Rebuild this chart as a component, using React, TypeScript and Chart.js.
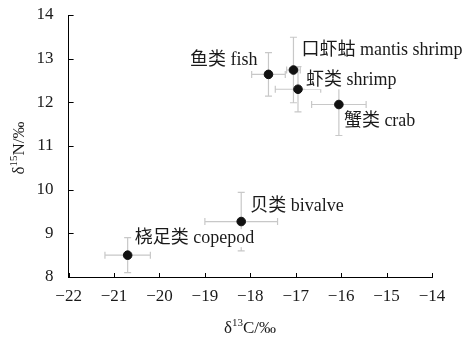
import React, { useEffect, useRef } from "react";
import { Chart, registerables } from "chart.js";

Chart.register(...registerables);

const groups = ["桡足类 copepod", "贝类 bivalve", "鱼类 fish", "口虾蛄 mantis shrimp", "虾类 shrimp", "蟹类 crab"];
const d13C = [-20.7, -18.2, -17.6, -17.05, -16.95, -16.05];
const d15N = [8.5, 9.27, 12.64, 12.74, 12.3, 11.95];
const d13CSd = [0.5, 0.8, 0.37, 0.15, 0.5, 0.6];
const d15NSd = [0.4, 0.67, 0.5, 0.75, 0.52, 0.71];

const xTicks = [-22, -21, -20, -19, -18, -17, -16, -15, -14];
const yTicks = [8, 9, 10, 11, 12, 13, 14];

// label offsets from each point (pixels), and alignment
const labelDx = [7, 9, -11, 8, 8, 5];
const labelDy = [-17, -15, -14, -20, -9, 17];
const labelAlign: CanvasTextAlign[] = ["left", "left", "right", "left", "left", "left"];

const SERIF = '"Liberation Serif", "Times New Roman", "Noto Sans CJK SC", serif';

const fmt = (v: number) => (v < 0 ? "\u2212" + Math.abs(v) : String(v));

const decorPlugin = {
  id: "decor",
  beforeDatasetsDraw(chart: any) {
    const { ctx, scales } = chart;
    const xs = scales.x;
    const ys = scales.y;
    const area = chart.chartArea;
    ctx.save();
    // inward ticks
    ctx.strokeStyle = "#000";
    ctx.lineWidth = 1;
    ctx.beginPath();
    xTicks.forEach((t) => {
      const px = Math.round(xs.getPixelForValue(t)) + 0.5;
      ctx.moveTo(px, area.bottom);
      ctx.lineTo(px, area.bottom - 4);
    });
    yTicks.forEach((t) => {
      const py = Math.round(ys.getPixelForValue(t)) + 0.5;
      ctx.moveTo(area.left, py);
      ctx.lineTo(area.left + 5, py);
    });
    ctx.stroke();
    // error bars
    ctx.strokeStyle = "#c8c8c8";
    ctx.lineWidth = 1.2;
    const cap = 3.5;
    ctx.beginPath();
    d13C.forEach((x, i) => {
      const y = d15N[i];
      const cx = xs.getPixelForValue(x);
      const cy = ys.getPixelForValue(y);
      const x0 = xs.getPixelForValue(x - d13CSd[i]);
      const x1 = xs.getPixelForValue(x + d13CSd[i]);
      const y0 = ys.getPixelForValue(y - d15NSd[i]);
      const y1 = ys.getPixelForValue(y + d15NSd[i]);
      ctx.moveTo(x0, cy); ctx.lineTo(x1, cy);
      ctx.moveTo(x0, cy - cap); ctx.lineTo(x0, cy + cap);
      ctx.moveTo(x1, cy - cap); ctx.lineTo(x1, cy + cap);
      ctx.moveTo(cx, y0); ctx.lineTo(cx, y1);
      ctx.moveTo(cx - cap, y0); ctx.lineTo(cx + cap, y0);
      ctx.moveTo(cx - cap, y1); ctx.lineTo(cx + cap, y1);
    });
    ctx.stroke();
    ctx.restore();
  },
  afterDatasetsDraw(chart: any) {
    const { ctx, scales } = chart;
    const xs = scales.x;
    const ys = scales.y;
    ctx.save();
    ctx.font = "18px " + SERIF;
    ctx.textBaseline = "middle";
    groups.forEach((g, i) => {
      const px = xs.getPixelForValue(d13C[i]) + labelDx[i];
      const py = ys.getPixelForValue(d15N[i]) + labelDy[i];
      const w = ctx.measureText(g).width;
      const left = labelAlign[i] === "left" ? px : px - w;
      ctx.fillStyle = "#fff";
      ctx.fillRect(left - 1, py - 9, w + 2, 18);
      ctx.fillStyle = "#1a1a1a";
      ctx.textAlign = labelAlign[i];
      ctx.fillText(g, px, py);
    });
    ctx.restore();
  },
  afterDraw(chart: any) {
    const { ctx } = chart;
    const drawTitle = (parts: { t: string; sup?: boolean }[], cx: number, cy: number, rot: number) => {
      ctx.save();
      ctx.translate(cx, cy);
      ctx.rotate(rot);
      ctx.fillStyle = "#1a1a1a";
      ctx.textBaseline = "alphabetic";
      ctx.textAlign = "left";
      const widths = parts.map((p) => {
        ctx.font = (p.sup ? "11px " : "17px ") + SERIF;
        return ctx.measureText(p.t).width;
      });
      const total = widths.reduce((a, b) => a + b, 0);
      let x = -total / 2;
      parts.forEach((p, i) => {
        ctx.font = (p.sup ? "11px " : "17px ") + SERIF;
        ctx.fillText(p.t, x, p.sup ? -1 : 6);
        x += widths[i];
      });
      ctx.restore();
    };
    drawTitle([{ t: "δ" }, { t: "13", sup: true }, { t: "C/‰" }], 250, 327, 0);
    drawTitle([{ t: "δ" }, { t: "15", sup: true }, { t: "N/‰" }], 18, 148, -Math.PI / 2);
  },
};

export default function App() {
  const ref = useRef<HTMLCanvasElement | null>(null);
  useEffect(() => {
    if (!ref.current) return;
    const chart = new Chart(ref.current, {
      type: "scatter",
      data: {
        datasets: [
          {
            label: "groups",
            data: d13C.map((x, i) => ({ x, y: d15N[i] })),
            backgroundColor: "#111",
            borderColor: "#111",
            pointRadius: 4.3,
            pointHoverRadius: 4.3,
          },
        ],
      },
      options: {
        animation: false,
        responsive: true,
        maintainAspectRatio: false,
        layout: { padding: { left: 0, top: 15, right: 34, bottom: 0 } },
        plugins: { legend: { display: false }, tooltip: { enabled: false }, title: { display: false } },
        scales: {
          x: {
            type: "linear",
            min: xTicks[0],
            max: xTicks[xTicks.length - 1],
            afterBuildTicks: (s: any) => { s.ticks = xTicks.map((v) => ({ value: v })); },
            afterFit: (s: any) => { s.height = 62; s.paddingLeft = 0; s.paddingRight = 0; },
            grid: { display: false, drawTicks: false },
            border: { display: true, color: "#000", width: 1 },
            ticks: {
              color: "#1a1a1a",
              font: { family: SERIF, size: 17 },
              padding: 9,
              maxRotation: 0,
              callback: (v: any) => fmt(Number(v)),
            },
          },
          y: {
            type: "linear",
            min: yTicks[0],
            max: yTicks[yTicks.length - 1],
            afterBuildTicks: (s: any) => { s.ticks = yTicks.map((v) => ({ value: v })); },
            afterFit: (s: any) => { s.width = 68.6; s.paddingTop = 0; s.paddingBottom = 0; },
            grid: { display: false, drawTicks: false },
            border: { display: true, color: "#000", width: 1 },
            ticks: {
              color: "#1a1a1a",
              font: { family: SERIF, size: 17 },
              padding: 15,
              callback: (v: any) => fmt(Number(v)),
            },
          },
        },
      },
      plugins: [decorPlugin],
    } as any);
    return () => chart.destroy();
  }, []);
  return (
    <div style={{ position: "absolute", left: 0, top: 0, width: 466, height: 339, background: "#fff" }}>
      <canvas ref={ref} />
    </div>
  );
}
